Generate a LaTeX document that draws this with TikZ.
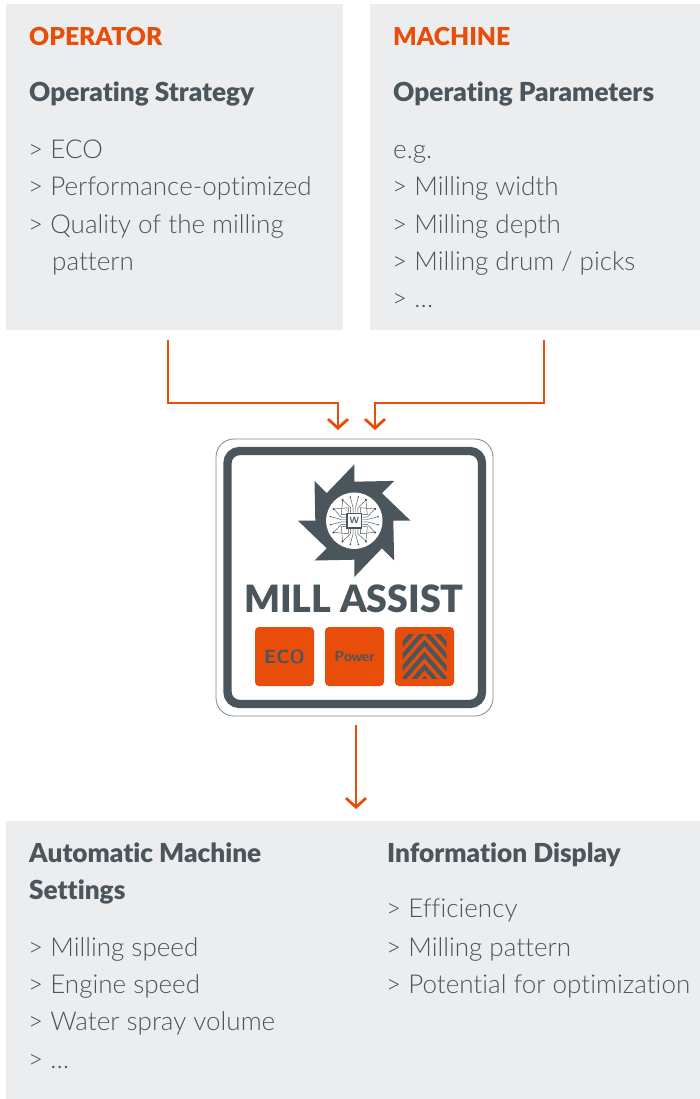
\documentclass[tikz,border=0pt]{standalone}
\usepackage{fontspec}
\setmainfont{Lato}
\newfontfamily\lightfont[Ligatures=NoCommon]{Lato Light}
\newfontfamily\blackfont[Ligatures=NoCommon]{Lato Black}
\usepackage{xcolor}
\usetikzlibrary{positioning,arrows.meta,calc}
\definecolor{panelgrey}{RGB}{236,237,239}
\definecolor{millgrey}{RGB}{74,85,92}
\definecolor{millorange}{RGB}{232,78,10}

\begin{document}
\begin{tikzpicture}[
  x=1pt, y=-1pt,
  panel/.style={fill=panelgrey, draw=none},
  title/.style={anchor=base west, inner sep=0pt, text=millorange, font=\blackfont\fontsize{24.7}{24.7}\selectfont},
  head/.style={anchor=base west, inner sep=0pt, text=millgrey, font=\blackfont\fontsize{26.2}{26.2}\selectfont},
  item/.style={anchor=base west, inner sep=0pt, text=millgrey, font=\lightfont\fontsize{26}{26}\selectfont},
  arrow/.style={-{Straight Barb[length=9pt,width=20pt,line width=2.8pt]}, draw=millorange, line width=2.7pt},
  modebox/.style={fill=millorange, rounded corners=4pt, minimum size=59pt, inner sep=0pt, text=millgrey, font=\sffamily\bfseries}
]
  \useasboundingbox (0,0) rectangle (700,1099);

  % Panels
  \fill[panel] (6,4) rectangle (343,330);
  \fill[panel] (370,4) rectangle (700,330);
  \fill[panel] (6,821) rectangle (700,1099);

  % Operator
  \node[title] (optitle) at (29,45.5) {OPERATOR};
  \node[head] (ophead) at (29,101.5) {Operating Strategy};
  \node[item] (op1) at (28,158.5) {> ECO};
  \node[item] (op2) at (28,195.5) {> Performance-optimized};
  \node[item] (op3) at (28,233.5) {> Quality of the milling};
  \node[item] (op4) at (52,270) {pattern};

  % Machine
  \node[title] (mctitle) at (393,45.5) {MACHINE};
  \node[head] (mchead) at (393,101.5) {Operating Parameters};
  \node[item] (mc1) at (393,158.5) {e.g.};
  \node[item] (mc2) at (392,195.5) {> Milling width};
  \node[item] (mc3) at (392,233.5) {> Milling depth};
  \node[item] (mc4) at (392,270) {> Milling drum / picks};
  \node[item] (mc5) at (392,307) {> …};

  % Bottom panel
  \node[head] (sethead) at (29,862) {Automatic Machine};
  \node[head] (sethead2) at (29,899) {Settings};
  \node[item] (set1) at (28,956) {> Milling speed};
  \node[item] (set2) at (28,993) {> Engine speed};
  \node[item] (set3) at (28,1030) {> Water spray volume};
  \node[item] (set4) at (28,1068) {> …};
  \node[head] (infohead) at (387,862) {Information Display};
  \node[item] (info1) at (386,917.5) {> Efficiency};
  \node[item] (info2) at (386,956) {> Milling pattern};
  \node[item] (info3) at (386,993) {> Potential for optimization};

  % Logo frame
  \node[draw=millgrey!70, fill=white, rounded corners=18pt, line width=0.8pt, minimum size=277pt, inner sep=0pt] (logo) at (354.5,577.5) {};
  \draw[millgrey, line width=8.3pt, rounded corners=12pt] (227.5,451) rectangle (482,704);

  % Mill wheel
  \begin{scope}[shift={(354.3,520.7)}]
    \fill[millgrey] (-90:56.3) \foreach \a in {-90,-45,...,225} { -- (\a:39) -- (\a+45:56.3) } -- cycle;
    \fill[white] (0,0) circle (28.2);
    \foreach \r in {0,90,180,270} {
      \begin{scope}[rotate=\r]
        \foreach \o/\e in {-6/-21, -3.6/-12, -1.2/-4, 1.2/4, 3.6/12, 6/21} {
          \draw[millgrey, line width=0.45pt] (8,\o) -- (13,\o) -- ({sqrt(24*24-\e*\e)},\e);
          \fill[millgrey] ({sqrt(24*24-\e*\e)},\e) circle (0.9);
        }
      \end{scope}
    }
    \draw[millgrey, line width=1.2pt, fill=white] (-7.3,-7.3) rectangle (7.3,7.3);
    \node[inner sep=0pt, text=millgrey, font=\sffamily\bfseries\fontsize{9}{9}\selectfont] (chip) at (0,0) {W};
  \end{scope}

  % Name
  \node[anchor=base, inner sep=0pt, text=millgrey, font=\blackfont\fontsize{37.6}{37.6}\selectfont] (millname) at (354,612) {MILL ASSIST};

  % Mode buttons
  \node[modebox, font=\sffamily\bfseries\fontsize{19}{19}\selectfont] (eco) at (284.5,656.5) {ECO};
  \node[modebox, font=\sffamily\bfseries\fontsize{14.5}{14.5}\selectfont] (power) at (354.5,656.5) {Power};
  \node[modebox] (pattern) at (424.5,656.5) {};
  \begin{scope}
    \clip (402.5,634.5) rectangle (446.5,678.5);
    \foreach \d in {595,607,...,679} {
      \draw[millgrey, line width=4.2pt] (384.5,\d+46) -- (424.5,\d) -- (464.5,\d+46);
    }
  \end{scope}

  % Connectors
  \coordinate (opout) at (168,340);
  \coordinate (mcout) at (544,340);
  \coordinate (opin) at (338,430);
  \coordinate (mcin) at (375,430);
  \coordinate (logoout) at (356,725);
  \coordinate (setin) at (356,809);
  \draw[arrow] (opout) |- (338,403) -- (opin);
  \draw[arrow] (mcout) |- (375,403) -- (mcin);
  \draw[arrow] (logoout) -- (setin);
\end{tikzpicture}
\end{document}
